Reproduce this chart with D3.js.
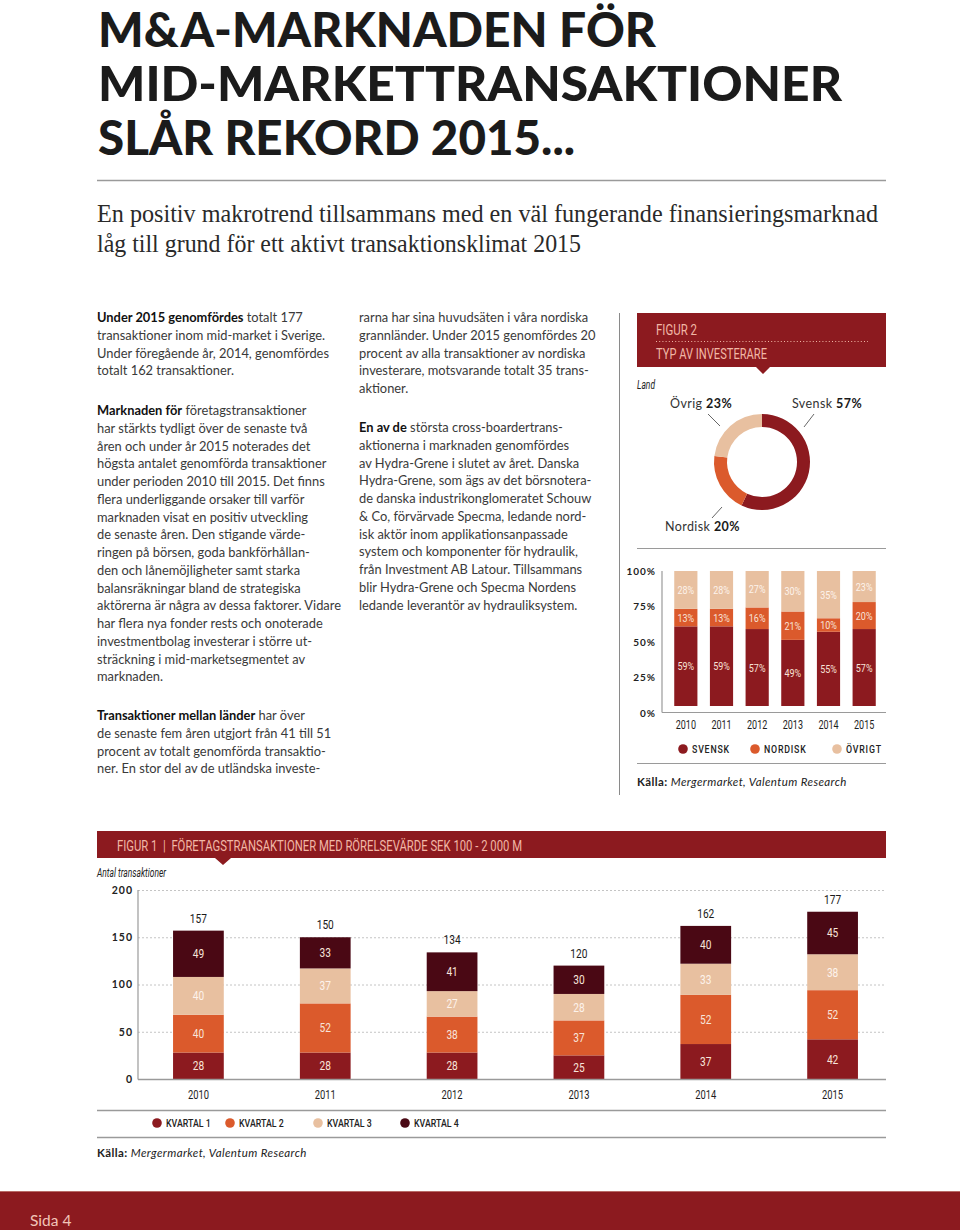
<!DOCTYPE html>
<html><head><meta charset="utf-8">
<script src="https://cdn.jsdelivr.net/npm/d3@7"></script>
<style>body{margin:0;background:#fff}svg{display:block}</style>
</head><body><svg id="c" width="960" height="1230"></svg>
<script>
// ---------- DATA ----------
const titleLines = ["M&A-MARKNADEN FÖR", "MID-MARKETTRANSAKTIONER", "SLÅR REKORD 2015..."];
const subtitleLines = ["En positiv makrotrend tillsammans med en väl fungerande finansieringsmarknad",
  "låg till grund för ett aktivt transaktionsklimat 2015"];

const leftP1 = [["Under 2015 genomfördes", " totalt 177"], ["", "transaktioner inom mid-market i Sverige."],
  ["", "Under föregående år, 2014, genomfördes"], ["", "totalt 162 transaktioner."]];
const leftP2 = [["Marknaden för", " företagstransaktioner"], ["", "har stärkts tydligt över de senaste två"],
  ["", "åren och under år 2015 noterades det"], ["", "högsta antalet genomförda transaktioner"],
  ["", "under perioden 2010 till 2015. Det finns"], ["", "flera underliggande orsaker till varför"],
  ["", "marknaden visat en positiv utveckling"], ["", "de senaste åren. Den stigande värde-"],
  ["", "ringen på börsen, goda bankförhållan-"], ["", "den och lånemöjligheter samt starka"],
  ["", "balansräkningar bland de strategiska"], ["", "aktörerna är några av dessa faktorer. Vidare"],
  ["", "har flera nya fonder rests och onoterade"], ["", "investmentbolag investerar i större ut-"],
  ["", "sträckning i mid-marketsegmentet av"], ["", "marknaden."]];
const leftP3 = [["Transaktioner mellan länder", " har över"], ["", "de senaste fem åren utgjort från 41 till 51"],
  ["", "procent av totalt genomförda transaktio-"], ["", "ner. En stor del av de utländska investe-"]];
const midP1 = [["", "rarna har sina huvudsäten i våra nordiska"], ["", "grannländer. Under 2015 genomfördes 20"],
  ["", "procent av alla transaktioner av nordiska"], ["", "investerare, motsvarande totalt 35 trans-"],
  ["", "aktioner."]];
const midP2 = [["En av de", " största cross-boardertrans-"], ["", "aktionerna i marknaden genomfördes"],
  ["", "av Hydra-Grene i slutet av året. Danska"], ["", "Hydra-Grene, som ägs av det börsnotera-"],
  ["", "de danska industrikonglomeratet Schouw"], ["", "& Co, förvärvade Specma, ledande nord-"],
  ["", "isk aktör inom applikationsanpassade"], ["", "system och komponenter för hydraulik,"],
  ["", "från Investment AB Latour. Tillsammans"], ["", "blir Hydra-Grene och Specma Nordens"],
  ["", "ledande leverantör av hydrauliksystem."]];

const years = ["2010", "2011", "2012", "2013", "2014", "2015"];
// Figure 1: transactions per quarter
const kvartal1 = [28, 28, 28, 25, 37, 42];
const kvartal2 = [40, 52, 38, 37, 52, 52];
const kvartal3 = [40, 37, 27, 28, 33, 38];
const kvartal4 = [49, 33, 41, 30, 40, 45];
const quarterNames = ["KVARTAL 1", "KVARTAL 2", "KVARTAL 3", "KVARTAL 4"];
const fig1Ticks = [0, 50, 100, 150, 200];
// Figure 2: investor type share (%)
const svensk = [59, 59, 57, 49, 55, 57];
const nordisk = [13, 13, 16, 21, 10, 20];
const ovrigt = [28, 28, 27, 30, 35, 23];
const investorNames = ["SVENSK", "NORDISK", "ÖVRIGT"];
const fig2Ticks = [0, 25, 50, 75, 100];
// Donut
const donutNames = ["Svensk", "Nordisk", "Övrig"];
const donutValues = [57, 20, 23];

// ---------- STYLE ----------
const C_RED = "#8c1a1f", C_ORANGE = "#db5a2c", C_PEACH = "#e8c0a0", C_DARK = "#4a0814";
const C_HEAD = "#f1b7a6";
const COND = "'Roboto','Liberation Sans',sans-serif";
const BODY = "Lato,'Noto Sans',sans-serif";

const svg = d3.select("#c");
function condense(sel, f) {
  sel.each(function () {
    const w = this.getComputedTextLength();
    d3.select(this).attr("textLength", w * f).attr("lengthAdjust", "spacingAndGlyphs");
  });
}

// ---------- TITLE ----------
const titleW = [558, 744, 477];
svg.append("g").selectAll("text").data(titleLines).join("text")
  .attr("x", 98).attr("y", (d, i) => 47 + i * 54)
  .attr("font-family", "Lato,sans-serif").attr("font-weight", 900).attr("font-size", 47)
  .attr("fill", "#1b1b1b")
  .attr("textLength", (d, i) => titleW[i]).attr("lengthAdjust", "spacingAndGlyphs")
  .text(d => d);

svg.append("line").attr("x1", 97).attr("x2", 886).attr("y1", 180.5).attr("y2", 180.5)
  .attr("stroke", "#9a9a9a").attr("stroke-width", 1.5);

const subW = [781, 484];
svg.append("g").selectAll("text").data(subtitleLines).join("text")
  .attr("x", 97).attr("y", (d, i) => 222 + i * 30)
  .attr("font-family", "'Liberation Serif','DejaVu Serif',serif").attr("font-size", 25)
  .attr("fill", "#2a2a2a")
  .attr("textLength", (d, i) => subW[i]).attr("lengthAdjust", "spacingAndGlyphs")
  .text(d => d);

// ---------- BODY TEXT ----------
const LH = 17.75;
function para(g, x, y0, lines) {
  lines.forEach((ln, i) => {
    const t = g.append("text").attr("x", x).attr("y", y0 + i * LH);
    if (ln[0]) t.append("tspan").attr("font-weight", 700).attr("fill", "#111").text(ln[0]);
    t.append("tspan").text(ln[1]);
  });
}
const body = svg.append("g").attr("font-family", BODY).attr("font-size", 13).attr("fill", "#3a3a3a");
para(body, 97, 322, leftP1);
para(body, 97, 415, leftP2);
para(body, 97, 720, leftP3);
para(body, 359, 322, midP1);
para(body, 359, 432, midP2);
let refW = 0;
body.selectAll("text").each(function () { if (this.textContent.startsWith("aktörerna är")) refW = this.getComputedTextLength(); });
if (refW > 0) body.attr("font-size", 13 * 244 / refW);

// vertical divider
svg.append("line").attr("x1", 619.5).attr("x2", 619.5).attr("y1", 313).attr("y2", 795)
  .attr("stroke", "#8a8a8a").attr("stroke-width", 1);

// ---------- FIGURE 2 HEADER ----------
const h2 = svg.append("g");
h2.append("path").attr("d", "M637,313H886V367H770L763,374L756,367H637Z").attr("fill", C_RED);
h2.append("text").attr("x", 656).attr("y", 335).attr("font-family", COND).attr("font-size", 14.5)
  .attr("fill", C_HEAD).attr("textLength", 41).attr("lengthAdjust", "spacingAndGlyphs").text("FIGUR 2");
h2.append("line").attr("x1", 656).attr("x2", 868).attr("y1", 341.5).attr("y2", 341.5)
  .attr("stroke", C_HEAD).attr("stroke-width", 1.2).attr("stroke-dasharray", "1,2.2");
h2.append("text").attr("x", 656).attr("y", 359).attr("font-family", COND).attr("font-size", 14.5)
  .attr("fill", C_HEAD).attr("textLength", 111).attr("lengthAdjust", "spacingAndGlyphs").text("TYP AV INVESTERARE");
svg.append("text").attr("x", 637).attr("y", 389).attr("font-family", COND).attr("font-style", "italic")
  .attr("font-size", 12.5).attr("fill", "#222").attr("textLength", 18).attr("lengthAdjust", "spacingAndGlyphs").text("Land");

// ---------- DONUT ----------
const pie = d3.pie().sort(null).value(d => d)(donutValues);
const arc = d3.arc().innerRadius(35).outerRadius(48);
const donutColors = [C_RED, C_ORANGE, C_PEACH];
svg.append("g").attr("transform", "translate(762,462)")
  .selectAll("path").data(pie).join("path").attr("d", arc).attr("fill", (d, i) => donutColors[i]);

const dl = [
  { x: 792, y: 408, lx1: 814, ly1: 414, lx2: 804, ly2: 427 },
  { x: 665, y: 531, lx1: 722, ly1: 507, lx2: 712, ly2: 518 },
  { x: 670, y: 408, lx1: 708, ly1: 414, lx2: 720, ly2: 426 }];
const dg = svg.append("g").attr("font-family", BODY).attr("font-size", 12.5).attr("fill", "#333");
donutNames.forEach((n, i) => {
  const t = dg.append("text").attr("x", dl[i].x).attr("y", dl[i].y).attr("letter-spacing", 0.4);
  t.append("tspan").text(n + " ");
  t.append("tspan").attr("font-weight", 700).attr("fill", "#1a1a1a").text(donutValues[i] + "%");
  dg.append("line").attr("x1", dl[i].lx1).attr("y1", dl[i].ly1).attr("x2", dl[i].lx2).attr("y2", dl[i].ly2)
    .attr("stroke", "#555").attr("stroke-width", 0.9);
});
svg.append("line").attr("x1", 637).attr("x2", 886).attr("y1", 548.5).attr("y2", 548.5)
  .attr("stroke", "#9a9a9a").attr("stroke-width", 1.2);

// ---------- FIGURE 2 STACKED % BARS ----------
const x2 = d3.scaleBand().domain(years).range([668, 882]).paddingInner(0.35).paddingOuter(0.175);
const yAxis2 = d3.scaleLinear().domain([0, 100]).range([713, 571]);
const yBar2 = d3.scaleLinear().domain([0, 100]).range([706, 571]);
const rows2 = years.map((y, i) => ({ year: y, SVENSK: svensk[i], NORDISK: nordisk[i], "ÖVRIGT": ovrigt[i] }));
const st2 = d3.stack().keys(investorNames)(rows2);
const col2 = d3.scaleOrdinal().domain(investorNames).range([C_RED, C_ORANGE, C_PEACH]);
const g2 = svg.append("g");
g2.selectAll("g.s").data(st2).join("g").attr("class", "s").attr("fill", d => col2(d.key))
  .selectAll("rect").data(d => d).join("rect")
  .attr("x", d => x2(d.data.year)).attr("width", x2.bandwidth())
  .attr("y", d => yBar2(d[1])).attr("height", d => yBar2(d[0]) - yBar2(d[1]));
const lab2 = g2.selectAll("g.l").data(st2).join("g").attr("class", "l")
  .selectAll("text").data(d => d.map(v => ({ v, key: d.key }))).join("text")
  .attr("x", d => x2(d.v.data.year) + x2.bandwidth() / 2)
  .attr("y", d => (yBar2(d.v[0]) + yBar2(d.v[1])) / 2 + 4)
  .attr("text-anchor", "middle").attr("font-family", COND).attr("font-size", 11.5)
  .attr("fill", d => d.key === "ÖVRIGT" ? "#fdf3ec" : "#f8e2d8")
  .text(d => (d.v[1] - d.v[0]) + "%");
condense(lab2, 0.78);
const ax2 = g2.append("g").attr("transform", "translate(662,0)")
  .call(d3.axisLeft(yAxis2).tickValues(fig2Ticks).tickSize(0).tickPadding(6).tickFormat(d => d + "%"));
ax2.select(".domain").remove();
ax2.selectAll("text").attr("font-family", BODY).attr("font-weight", 700).attr("font-size", 10)
  .attr("letter-spacing", 1).attr("fill", "#222");
g2.append("line").attr("x1", 662).attr("x2", 662).attr("y1", 571).attr("y2", 712.5).attr("stroke", "#9a9a9a").attr("stroke-width", 1.2);
g2.append("line").attr("x1", 662).attr("x2", 886).attr("y1", 712.5).attr("y2", 712.5).attr("stroke", "#9a9a9a").attr("stroke-width", 1.2);
const xa2 = g2.append("g").attr("transform", "translate(0,716)")
  .call(d3.axisBottom(x2).tickSize(0).tickPadding(4));
xa2.select(".domain").remove();
xa2.selectAll("text").attr("font-family", COND).attr("font-size", 12).attr("fill", "#1e1e1e");
condense(xa2.selectAll("text"), 0.75);
const lg2x = [683, 755, 837];
const lg2 = g2.append("g").selectAll("g").data(investorNames).join("g")
  .attr("transform", (d, i) => `translate(${lg2x[i]},749)`);
lg2.append("circle").attr("r", 4.8).attr("fill", d => col2(d));
const lg2t = lg2.append("text").attr("x", 9).attr("y", 4).attr("font-family", COND).attr("font-weight", 500).attr("font-size", 11)
  .attr("letter-spacing", 1).attr("fill", "#222").text(d => d);
condense(lg2t, 0.8);
svg.append("line").attr("x1", 637).attr("x2", 886).attr("y1", 763.5).attr("y2", 763.5)
  .attr("stroke", "#9a9a9a").attr("stroke-width", 1.2);
function kalla(x, y) {
  const t = svg.append("text").attr("x", x).attr("y", y).attr("font-family", BODY).attr("font-size", 11.5)
    .attr("fill", "#222").attr("letter-spacing", 0.4);
  t.append("tspan").attr("font-weight", 700).text("Källa: ");
  t.append("tspan").attr("font-style", "italic").text("Mergermarket, Valentum Research");
}
kalla(637, 786);

// ---------- FIGURE 1 HEADER ----------
const h1 = svg.append("g");
h1.append("path").attr("d", "M97,831H886V858H231L223,865L215,858H97Z").attr("fill", C_RED);
h1.append("text").attr("x", 117).attr("y", 850.5).attr("font-family", COND).attr("font-size", 15)
  .attr("fill", C_HEAD).attr("textLength", 405).attr("lengthAdjust", "spacingAndGlyphs")
  .attr("xml:space", "preserve")
  .text("FIGUR 1  |  FÖRETAGSTRANSAKTIONER MED RÖRELSEVÄRDE SEK 100 - 2 000 M");
svg.append("text").attr("x", 97).attr("y", 877).attr("font-family", COND).attr("font-style", "italic")
  .attr("font-size", 12.5).attr("fill", "#222").attr("textLength", 69).attr("lengthAdjust", "spacingAndGlyphs")
  .text("Antal transaktioner");

// ---------- FIGURE 1 STACKED BARS ----------
const x1 = d3.scaleBand().domain(years).range([135, 896]).paddingInner(0.6).paddingOuter(0.3);
const y1 = d3.scaleLinear().domain([0, 200]).range([1079, 890]);
const rows1 = years.map((y, i) => ({ year: y, "KVARTAL 1": kvartal1[i], "KVARTAL 2": kvartal2[i], "KVARTAL 3": kvartal3[i], "KVARTAL 4": kvartal4[i] }));
const st1 = d3.stack().keys(quarterNames)(rows1);
const col1 = d3.scaleOrdinal().domain(quarterNames).range([C_RED, C_ORANGE, C_PEACH, C_DARK]);
const g1 = svg.append("g");
g1.append("g").selectAll("line").data(fig1Ticks.filter(t => t > 0)).join("line")
  .attr("x1", 138).attr("x2", 886).attr("y1", d => y1(d) + 0.5).attr("y2", d => y1(d) + 0.5)
  .attr("stroke", "#c4c4c4").attr("stroke-width", 1).attr("stroke-dasharray", "2,2");
g1.selectAll("g.s").data(st1).join("g").attr("class", "s").attr("fill", d => col1(d.key))
  .selectAll("rect").data(d => d).join("rect")
  .attr("x", d => x1(d.data.year)).attr("width", x1.bandwidth())
  .attr("y", d => y1(d[1])).attr("height", d => y1(d[0]) - y1(d[1]));
const lab1 = g1.selectAll("g.l").data(st1).join("g").attr("class", "l")
  .selectAll("text").data(d => d.map(v => ({ v, key: d.key }))).join("text")
  .attr("x", d => x1(d.v.data.year) + x1.bandwidth() / 2)
  .attr("y", d => (y1(d.v[0]) + y1(d.v[1])) / 2 + 4.5)
  .attr("text-anchor", "middle").attr("font-family", COND).attr("font-size", 13)
  .attr("fill", d => d.key === "KVARTAL 3" ? "#fdf3ec" : "#f8e4da")
  .text(d => d.v[1] - d.v[0]);
condense(lab1, 0.78);
const tot1 = g1.append("g").selectAll("text").data(rows1).join("text")
  .attr("x", d => x1(d.year) + x1.bandwidth() / 2)
  .attr("y", (d, i) => y1(kvartal1[i] + kvartal2[i] + kvartal3[i] + kvartal4[i]) - 8)
  .attr("text-anchor", "middle").attr("font-family", COND).attr("font-size", 13).attr("fill", "#1a1a1a")
  .text((d, i) => kvartal1[i] + kvartal2[i] + kvartal3[i] + kvartal4[i]);
condense(tot1, 0.78);
const ax1 = g1.append("g").attr("transform", "translate(133,0)")
  .call(d3.axisLeft(y1).tickValues(fig1Ticks).tickSize(0).tickPadding(0));
ax1.select(".domain").remove();
ax1.selectAll("text").attr("font-family", BODY).attr("font-weight", 700).attr("font-size", 10.5)
  .attr("letter-spacing", 1).attr("fill", "#222");
g1.append("line").attr("x1", 138).attr("x2", 138).attr("y1", 890).attr("y2", 1079.5).attr("stroke", "#9a9a9a").attr("stroke-width", 1.2);
g1.append("line").attr("x1", 138).attr("x2", 886).attr("y1", 1079.5).attr("y2", 1079.5).attr("stroke", "#9a9a9a").attr("stroke-width", 1.5);
const xa1 = g1.append("g").attr("transform", "translate(0,1088)")
  .call(d3.axisBottom(x1).tickSize(0).tickPadding(0));
xa1.select(".domain").remove();
xa1.selectAll("text").attr("font-family", COND).attr("font-size", 12.5).attr("fill", "#1e1e1e").attr("dy", "0.9em");
condense(xa1.selectAll("text"), 0.75);
svg.append("line").attr("x1", 97).attr("x2", 886).attr("y1", 1110.5).attr("y2", 1110.5).attr("stroke", "#9a9a9a").attr("stroke-width", 1.5);
const lg1x = [157, 230, 318, 405];
const lg1 = g1.append("g").selectAll("g").data(quarterNames).join("g")
  .attr("transform", (d, i) => `translate(${lg1x[i]},1123)`);
lg1.append("circle").attr("r", 4.8).attr("fill", d => col1(d));
const lg1t = lg1.append("text").attr("x", 9).attr("y", 4).attr("font-family", COND).attr("font-weight", 500).attr("font-size", 11)
  .attr("fill", "#222").text(d => d);
condense(lg1t, 0.8);
svg.append("line").attr("x1", 97).attr("x2", 886).attr("y1", 1137.5).attr("y2", 1137.5).attr("stroke", "#9a9a9a").attr("stroke-width", 1.5);
kalla(97, 1157);

// ---------- FOOTER ----------
svg.append("rect").attr("x", 0).attr("y", 1191).attr("width", 960).attr("height", 39).attr("fill", C_RED);
svg.append("line").attr("x1", 0).attr("x2", 960).attr("y1", 1191.5).attr("y2", 1191.5).attr("stroke", "#b86a66").attr("stroke-width", 1);
svg.append("text").attr("x", 30).attr("y", 1226).attr("font-family", BODY).attr("font-size", 15.5)
  .attr("fill", "#f2c4b8").text("Sida 4");
</script></body></html>
